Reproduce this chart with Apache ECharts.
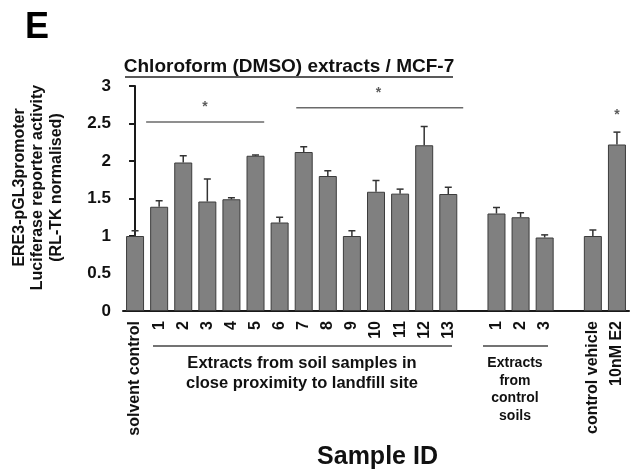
<!DOCTYPE html>
<html>
<head>
<meta charset="utf-8">
<script src="https://cdn.jsdelivr.net/npm/echarts@6/dist/echarts.min.js"></script>
<style>
  html, body { margin: 0; padding: 0; background: #fff; }
  #main { width: 635px; height: 475px; }
</style>
</head>
<body>
<div id="main"></div>
<script>
// 类别 / 数据
var categories = ['solvent control', '1', '2', '3', '4', '5', '6', '7', '8', '9', '10', '11', '12', '13',
  '', '1', '2', '3', '', 'control vehicle', '10nM E2'];
var values = [1.00, 1.39, 1.98, 1.46, 1.49, 2.07, 1.18, 2.12, 1.80, 1.00, 1.59, 1.565, 2.21, 1.56,
  null, 1.30, 1.25, 0.98, null, 1.00, 2.22];
var errors = [0.07, 0.08, 0.09, 0.30, 0.02, 0.01, 0.07, 0.07, 0.07, 0.07, 0.15, 0.06, 0.25, 0.09,
  null, 0.08, 0.06, 0.035, null, 0.08, 0.165];
var yTicks = [0, 0.5, 1, 1.5, 2, 2.5, 3];

// 显著性标记 (横线起止位置按类别序号, y值)
var sigLines = [[0.46, 5.36, 2.52], [6.69, 13.62, 2.71]];
var stars = [[2.9, 2.72], [10.1, 2.91], [20, 2.61]];

var FONT = '"Liberation Sans", Arial, sans-serif';

var errData = [];
for (var i = 0; i < values.length; i++) {
  if (values[i] != null) errData.push([i, values[i], errors[i]]);
}
var barData = values.map(function (v) { return v == null ? '-' : v; });

var lineSeries = sigLines.map(function (s) {
  return {
    type: 'line',
    xAxisIndex: 1,
    data: [[s[0], s[2]], [s[1], s[2]]],
    symbol: 'none',
    silent: true,
    lineStyle: { color: '#6a6a6a', width: 1.5 }
  };
});

var myChart = echarts.init(document.getElementById('main'));
var option = {
  animation: false,
  backgroundColor: '#fff',
  grid: { left: 123, right: 6, top: 86, bottom: 164, containLabel: false },
  xAxis: [
    {
      type: 'category',
      data: categories,
      axisLine: { lineStyle: { color: '#1a1a1a', width: 2 } },
      axisTick: { show: false },
      axisLabel: {
        interval: 0,
        rotate: 90,
        margin: 10,
        fontFamily: FONT,
        fontWeight: 'bold',
        fontSize: 16,
        color: '#111'
      }
    },
    {
      type: 'value',
      min: -0.5,
      max: 20.5,
      show: false
    }
  ],
  yAxis: {
    type: 'value',
    min: yTicks[0],
    max: yTicks[yTicks.length - 1],
    interval: 0.5,
    splitLine: { show: false },
    axisLine: { show: true, lineStyle: { color: '#1a1a1a', width: 2 } },
    axisTick: { show: true, length: 6, lineStyle: { color: '#1a1a1a', width: 2 } },
    axisLabel: {
      margin: 12,
      fontFamily: FONT,
      fontWeight: 'bold',
      fontSize: 17,
      color: '#111'
    }
  },
  series: [
    {
      type: 'bar',
      data: barData,
      barWidth: 18,
      itemStyle: { color: '#808080', borderColor: '#3c3c3c', borderWidth: 1 }
    },
    {
      type: 'custom',
      data: errData,
      encode: { x: 0, y: 1 },
      z: 5,
      renderItem: function (params, api) {
        var x = api.value(0), v = api.value(1), e = api.value(2);
        var p0 = api.coord([x, v]);
        var p1 = api.coord([x, v + e]);
        var hw = 3.5;
        var st = { stroke: '#333', lineWidth: 1.5 };
        return {
          type: 'group',
          children: [
            { type: 'line', shape: { x1: p0[0], y1: p0[1], x2: p1[0], y2: p1[1] }, style: st },
            { type: 'line', shape: { x1: p1[0] - hw, y1: p1[1], x2: p1[0] + hw, y2: p1[1] }, style: st }
          ]
        };
      }
    }
  ].concat(lineSeries).concat([
    {
      type: 'scatter',
      xAxisIndex: 1,
      data: stars,
      symbolSize: 1,
      itemStyle: { color: 'rgba(0,0,0,0)' },
      label: {
        show: true,
        position: 'inside',
        formatter: '*',
        fontFamily: FONT,
        fontWeight: 'bold',
        fontSize: 14,
        color: '#333'
      }
    }
  ]),
  graphic: [
    {
      type: 'text', left: 25, top: 10,
      style: { text: 'E', fontFamily: FONT, fontWeight: 'bold', fontSize: 36, fill: '#000' }
    },
    {
      type: 'text', x: 289, y: 66.5,
      style: {
        text: 'Chloroform (DMSO) extracts / MCF-7', fontFamily: FONT, fontWeight: 'bold', fontSize: 19,
        fill: '#111', align: 'center', verticalAlign: 'middle'
      }
    },
    {
      type: 'line', shape: { x1: 125, y1: 77, x2: 453, y2: 77 },
      style: { stroke: '#222', lineWidth: 1.5 }
    },
    {
      type: 'text', x: 38, y: 187.5, rotation: Math.PI / 2,
      style: {
        text: 'ERE3-pGL3promoter\nLuciferase reporter activity\n(RL-TK normalised)',
        fontFamily: FONT, fontWeight: 'bold', fontSize: 16, lineHeight: 18.5,
        fill: '#111', align: 'center', verticalAlign: 'middle'
      }
    },
    {
      type: 'line', shape: { x1: 153, y1: 346, x2: 452, y2: 346 },
      style: { stroke: '#444', lineWidth: 1.5 }
    },
    {
      type: 'text', x: 302, y: 373.5,
      style: {
        text: 'Extracts from soil samples in\nclose proximity to landfill site',
        fontFamily: FONT, fontWeight: 'bold', fontSize: 16.5, lineHeight: 20.5,
        fill: '#111', align: 'center', verticalAlign: 'middle'
      }
    },
    {
      type: 'line', shape: { x1: 483, y1: 346, x2: 548, y2: 346 },
      style: { stroke: '#444', lineWidth: 1.5 }
    },
    {
      type: 'text', x: 515, y: 389.5,
      style: {
        text: 'Extracts\nfrom\ncontrol\nsoils',
        fontFamily: FONT, fontWeight: 'bold', fontSize: 14, lineHeight: 17.6,
        fill: '#111', align: 'center', verticalAlign: 'middle'
      }
    },
    {
      type: 'text', x: 377.5, y: 457,
      style: {
        text: 'Sample ID', fontFamily: FONT, fontWeight: 'bold', fontSize: 25,
        fill: '#111', align: 'center', verticalAlign: 'middle'
      }
    }
  ]
};
myChart.setOption(option);
</script>
</body>
</html>
